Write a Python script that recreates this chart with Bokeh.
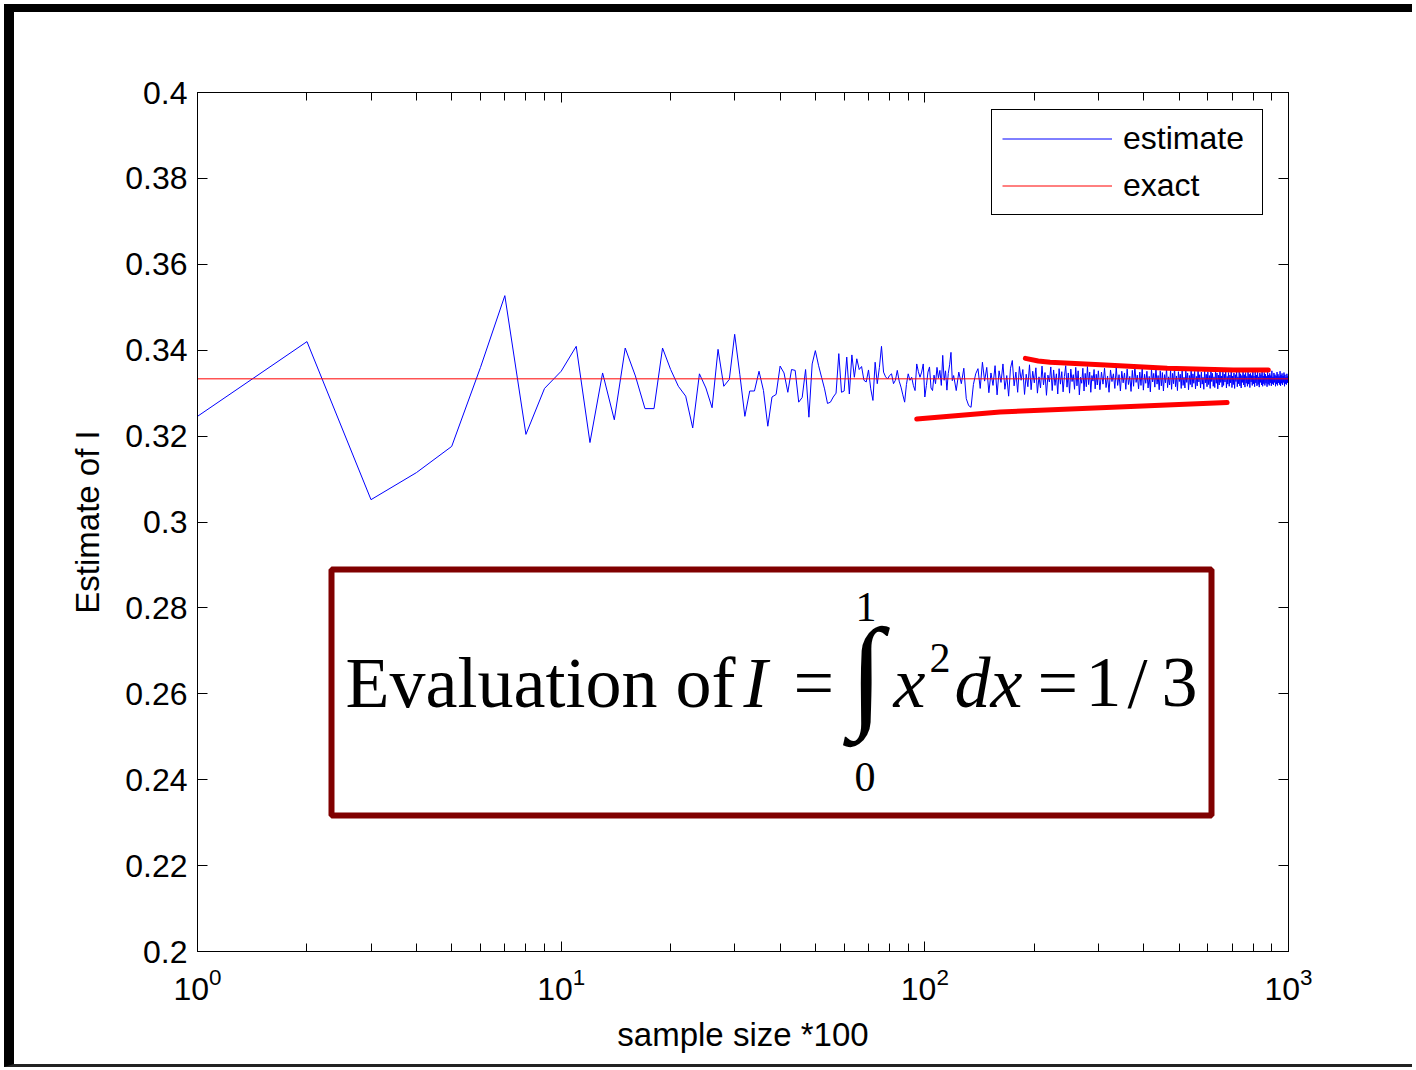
from bokeh.plotting import figure
from bokeh.models import (Range1d, LogAxis, LinearAxis, FixedTicker, Legend, LegendItem,
                          BoxAnnotation, Label)
from bokeh.embed import file_html
from bokeh.resources import INLINE

# ---------------- data ----------------
sample_size = list(range(1, 121)) + list(range(122, 301, 2)) + list(range(303, 1000, 3)) + [1000]

est_1_120 = [
    0.3246, 0.3420, 0.3052, 0.3115, 0.3176, 0.3360, 0.3527, 0.3204, 0.3311, 0.3351,
    0.3409, 0.3185, 0.3347, 0.3238, 0.3405, 0.3340, 0.3264, 0.3264, 0.3405, 0.3355,
    0.3316, 0.3293, 0.3219, 0.3345, 0.3312, 0.3266, 0.3402, 0.3316, 0.3332, 0.3437,
    0.3343, 0.3246, 0.3305, 0.3305, 0.3351, 0.3306, 0.3223, 0.3291, 0.3297, 0.3363,
    0.3347, 0.3302, 0.3355, 0.3353, 0.3279, 0.3290, 0.3355, 0.3244, 0.3368, 0.3399,
    0.3365, 0.3337, 0.3310, 0.3276, 0.3279, 0.3291, 0.3300, 0.3392, 0.3302, 0.3305,
    0.3384, 0.3298, 0.3389, 0.3337, 0.3380, 0.3355, 0.3362, 0.3330, 0.3326, 0.3354,
    0.3310, 0.3283, 0.3372, 0.3322, 0.3360, 0.3409, 0.3349, 0.3338, 0.3333, 0.3341,
    0.3345, 0.3322, 0.3330, 0.3353, 0.3328, 0.3314, 0.3296, 0.3279, 0.3320, 0.3345,
    0.3330, 0.3337, 0.3318, 0.3306, 0.3368, 0.3350, 0.3337, 0.3349, 0.3368, 0.3291,
    0.3318, 0.3349, 0.3361, 0.3312, 0.3306, 0.3342, 0.3322, 0.3360, 0.3335, 0.3353,
    0.3318, 0.3388, 0.3330, 0.3352, 0.3307, 0.3346, 0.3366, 0.3395, 0.3329, 0.3341,
]
est_122_300 = [
    0.3306, 0.3349, 0.3322, 0.3358, 0.3287, 0.3271, 0.3267, 0.3320, 0.3345, 0.3357,
    0.3311, 0.3372, 0.3328, 0.3360, 0.3301, 0.3347, 0.3318, 0.3364, 0.3296, 0.3352,
    0.3325, 0.3368, 0.3309, 0.3341, 0.3293, 0.3358, 0.3376, 0.3317, 0.3349, 0.3302,
    0.3362, 0.3330, 0.3355, 0.3297, 0.3344, 0.3315, 0.3366, 0.3308, 0.3351, 0.3324,
    0.3359, 0.3300, 0.3338, 0.3312, 0.3363, 0.3319, 0.3348, 0.3295, 0.3342, 0.3326,
    0.3361, 0.3306, 0.3354, 0.3318, 0.3345, 0.3298, 0.3357, 0.3321, 0.3350, 0.3303,
    0.3339, 0.3364, 0.3314, 0.3347, 0.3300, 0.3356, 0.3327, 0.3343, 0.3309, 0.3360,
    0.3317, 0.3352, 0.3296, 0.3337, 0.3323, 0.3358, 0.3305, 0.3346, 0.3315, 0.3362,
    0.3320, 0.3349, 0.3302, 0.3341, 0.3328, 0.3355, 0.3310, 0.3344, 0.3319, 0.3352,
]
est_303_1000 = [
    0.3308, 0.3349, 0.3321, 0.3358, 0.3313, 0.3340, 0.3302, 0.3354, 0.3327, 0.3345,
    0.3311, 0.3360, 0.3318, 0.3343, 0.3305, 0.3351, 0.3324, 0.3347, 0.3309, 0.3356,
    0.3320, 0.3339, 0.3304, 0.3353, 0.3316, 0.3362, 0.3325, 0.3342, 0.3310, 0.3349,
    0.3318, 0.3357, 0.3307, 0.3344, 0.3323, 0.3351, 0.3312, 0.3339, 0.3303, 0.3355,
    0.3326, 0.3346, 0.3314, 0.3360, 0.3321, 0.3341, 0.3308, 0.3352, 0.3317, 0.3348,
    0.3305, 0.3343, 0.3324, 0.3357, 0.3313, 0.3338, 0.3319, 0.3353, 0.3309, 0.3346,
    0.3322, 0.3359, 0.3315, 0.3340, 0.3306, 0.3350, 0.3327, 0.3344, 0.3311, 0.3355,
    0.3318, 0.3337, 0.3312, 0.3352, 0.3325, 0.3347, 0.3308, 0.3341, 0.3320, 0.3358,
    0.3314, 0.3345, 0.3323, 0.3351, 0.3310, 0.3339, 0.3317, 0.3356, 0.3326, 0.3343,
    0.3312, 0.3349, 0.3321, 0.3337, 0.3309, 0.3353, 0.3324, 0.3344, 0.3315, 0.3350,
    0.3320, 0.3341, 0.3311, 0.3355, 0.3327, 0.3346, 0.3316, 0.3338, 0.3313, 0.3352,
    0.3323, 0.3347, 0.3310, 0.3342, 0.3319, 0.3357, 0.3325, 0.3340, 0.3314, 0.3349,
    0.3318, 0.3344, 0.3326, 0.3353, 0.3312, 0.3339, 0.3321, 0.3348, 0.3316, 0.3342,
    0.3324, 0.3355, 0.3313, 0.3340, 0.3320, 0.3347, 0.3311, 0.3343, 0.3327, 0.3351,
    0.3315, 0.3338, 0.3322, 0.3350, 0.3317, 0.3345, 0.3312, 0.3341, 0.3325, 0.3354,
    0.3319, 0.3343, 0.3314, 0.3348, 0.3323, 0.3339, 0.3316, 0.3352, 0.3321, 0.3344,
    0.3313, 0.3346, 0.3326, 0.3341, 0.3318, 0.3356, 0.3322, 0.3340, 0.3315, 0.3349,
    0.3324, 0.3342, 0.3317, 0.3351, 0.3320, 0.3338, 0.3314, 0.3347, 0.3325, 0.3343,
    0.3319, 0.3353, 0.3316, 0.3340, 0.3322, 0.3348, 0.3318, 0.3344, 0.3323, 0.3339,
    0.3315, 0.3350, 0.3321, 0.3342, 0.3318, 0.3346, 0.3324, 0.3341, 0.3317, 0.3352,
    0.3322, 0.3338, 0.3319, 0.3347, 0.3325, 0.3343, 0.3316, 0.3340, 0.3321, 0.3349,
    0.3318, 0.3344, 0.3324, 0.3339, 0.3320, 0.3351, 0.3317, 0.3342, 0.3323, 0.3346,
    0.3319, 0.3340, 0.3325, 0.3348, 0.3316, 0.3343, 0.3322, 0.3337, 0.3320, 0.3345,
    0.3324, 0.3339, 0.3327,
    0.3336,
]
estimate = est_1_120 + est_122_300 + est_303_1000
assert len(estimate) == len(sample_size)

exact_x = [1, 1000]
exact_y = [1 / 3, 1 / 3]

# hand-drawn red marks (data coordinates)
stroke_upper_x = [189, 205, 221, 304, 464, 705, 880]
stroke_upper_y = [0.3381, 0.3375, 0.3372, 0.3366, 0.3358, 0.3354, 0.3354]
stroke_lower_x = [95, 161, 304, 678]
stroke_lower_y = [0.3240, 0.3256, 0.3266, 0.3278]

x_ticks = [1, 10, 100, 1000]
x_minor_ticks = [2, 3, 4, 5, 6, 7, 8, 9, 20, 30, 40, 50, 60, 70, 80, 90,
                 200, 300, 400, 500, 600, 700, 800, 900]
y_ticks = [0.2, 0.22, 0.24, 0.26, 0.28, 0.3, 0.32, 0.34, 0.36, 0.38, 0.4]
y_tick_labels = ["0.2", "0.22", "0.24", "0.26", "0.28", "0.3", "0.32", "0.34", "0.36", "0.38", "0.4"]
legend_labels = ["estimate", "exact"]

# ---------------- geometry helpers (page pixels -> data) ----------------
FL, FR, FT, FB = 197, 1288, 92, 951
def xd(px):
    return 10 ** ((px - FL) / ((FR - FL) / 3.0))
def yd(py):
    return 0.2 + (FB - py) / (FB - FT) * 0.2

SANS = "Liberation Sans"
SERIF = "Liberation Serif"

# canvas origin on the page: (14, 12); outer box 4..1412 x 4..1067
p = figure(width=1408, height=1063, x_axis_type="log",
           x_range=Range1d(1, 1000), y_range=Range1d(0.2, 0.4),
           output_backend="svg", toolbar_location=None,
           min_border_left=183, min_border_right=134, min_border_top=80, min_border_bottom=124)
p.styles = {"margin-left": "4px", "margin-top": "4px", "overflow": "hidden",
            "border-left": "10px solid #000", "border-top": "8px solid #000",
            "border-bottom": "3px solid #222"}
p.background_fill_color = "white"
p.border_fill_color = "white"
p.outline_line_color = "black"
p.outline_line_width = 1
p.xgrid.visible = False
p.ygrid.visible = False

def style_axis(ax, show_labels=True):
    ax.axis_line_color = "black"
    ax.major_tick_line_color = "black"
    ax.minor_tick_line_color = "black"
    ax.major_tick_in = 10
    ax.major_tick_out = 0
    ax.minor_tick_in = 8
    ax.minor_tick_out = 0
    ax.major_label_text_font = SANS
    ax.major_label_text_font_size = "32px"
    ax.major_label_text_color = "black" if show_labels else None
    ax.axis_label_text_font = SANS
    ax.axis_label_text_font_size = "33px"
    ax.axis_label_text_font_style = "normal"
    ax.axis_label_text_color = "black"

xax = p.xaxis[0]
xax.ticker = FixedTicker(ticks=x_ticks, minor_ticks=x_minor_ticks)
style_axis(xax)
xax.major_label_standoff = 16
xax.axis_label = "sample size *100"
xax.axis_label_standoff = 13

yax = p.yaxis[0]
yax.ticker = FixedTicker(ticks=y_ticks)
yax.major_label_overrides = dict(zip(y_ticks, y_tick_labels))
style_axis(yax)
yax.major_label_standoff = 10
yax.axis_label = "Estimate of I"
yax.axis_label_standoff = 16

top_ax = LogAxis(ticker=FixedTicker(ticks=x_ticks, minor_ticks=x_minor_ticks))
style_axis(top_ax, show_labels=False)
p.add_layout(top_ax, "above")
right_ax = LinearAxis(ticker=FixedTicker(ticks=y_ticks))
style_axis(right_ax, show_labels=False)
p.add_layout(right_ax, "right")

r_est = p.line(sample_size, estimate, line_color="#0000ff", line_width=1)
r_exact = p.line(exact_x, exact_y, line_color="#ff0000", line_width=1)

p.line(stroke_upper_x, stroke_upper_y, line_color="#ff0000", line_width=5,
       line_cap="round", line_join="round")
p.line(stroke_lower_x, stroke_lower_y, line_color="#ff0000", line_width=5,
       line_cap="round", line_join="round")

legend = Legend(items=[LegendItem(label=legend_labels[0], renderers=[r_est]),
                       LegendItem(label=legend_labels[1], renderers=[r_exact])],
                location=(794, 736), label_text_font=SANS, label_text_font_size="32px",
                label_text_color="black", border_line_color="black", border_line_width=1,
                border_line_alpha=1.0,
                background_fill_color="white", background_fill_alpha=1.0,
                padding=10, spacing=10, glyph_width=110, glyph_height=37,
                label_height=37, label_width=129, label_standoff=11, margin=0)
p.add_layout(legend)

# formula box
box = BoxAnnotation(left=xd(331), right=xd(1211), top=yd(569), bottom=yd(815),
                    fill_color=None, fill_alpha=0, line_color="#800000", line_alpha=1.0,
                    line_width=6)
p.add_layout(box)

# (text, left px, anchor px, size px, style)
pieces = [
    ("Evaluation of", 345, 682, 72, "normal"),
    ("I", 743, 682, 72, "italic"),
    ("=", 793, 682, 72, "normal"),
    ("\u222b", 849, 672, 124, "normal"),
    ("1", 855, 606, 42, "normal"),
    ("0", 854, 776, 42, "normal"),
    ("x", 893, 682, 72, "italic"),
    ("2", 929, 657, 42, "normal"),
    ("dx", 954, 682, 72, "italic"),
    ("=", 1037, 682, 72, "normal"),
    ("1", 1085, 682, 72, "normal"),
    ("/", 1127, 682, 72, "normal"),
    ("3", 1161, 682, 72, "normal"),
]
for txt, px, py, size, style in pieces:
    p.add_layout(Label(x=xd(px), y=yd(py), text=txt, text_font=SERIF,
                       text_font_size=f"{size}px", text_font_style=style,
                       text_color="black", text_baseline="alphabetic", text_align="left"))

open("out.html", "w").write(file_html(p, INLINE))
